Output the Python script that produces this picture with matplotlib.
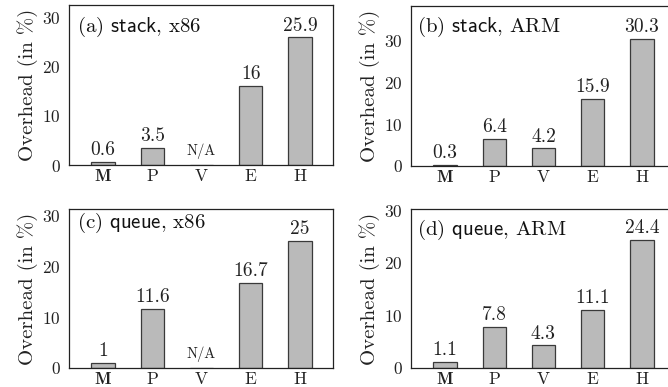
import matplotlib
matplotlib.use("Agg")
import matplotlib.pyplot as plt

plt.rcParams['font.family'] = ['cmr10', 'DejaVu Serif']
plt.rcParams['mathtext.fontset'] = 'cm'
plt.rcParams['axes.formatter.use_mathtext'] = True

categories = ["M", "P", "V", "E", "H"]
panel_titles = [r"(a) $\mathsf{stack}$, x86", r"(b) $\mathsf{stack}$, ARM",
                r"(c) $\mathsf{queue}$, x86", r"(d) $\mathsf{queue}$, ARM"]
stack_x86 = [0.6, 3.5, None, 16, 25.9]
stack_arm = [0.3, 6.4, 4.2, 15.9, 30.3]
queue_x86 = [1, 11.6, None, 16.7, 25]
queue_arm = [1.1, 7.8, 4.3, 11.1, 24.4]
series = [stack_x86, stack_arm, queue_x86, queue_arm]
value_labels = [["0.6", "3.5", "N/A", "16", "25.9"],
                ["0.3", "6.4", "4.2", "15.9", "30.3"],
                ["1", "11.6", "N/A", "16.7", "25"],
                ["1.1", "7.8", "4.3", "11.1", "24.4"]]
yticks = [0, 10, 20, 30]

fig = plt.figure(figsize=(6.68, 3.87), dpi=100)
W, H = 668, 387
# (left, top, right, bottom) in pixels
boxes = [(69, 5, 333, 165), (411, 6, 675, 166), (69, 209, 333, 368), (411, 209, 675, 368)]
ylims = [32.5, 38.1, 31.2, 30.2]
title_pos = [(0.03, 0.8625), (0.023, 0.87), (0.03, 0.912), (0.023, 0.868)]

for i, (l, t, r, b) in enumerate(boxes):
    ax = fig.add_axes([l / W, 1 - b / H, (r - l) / W, (b - t) / H])
    vals = series[i]
    x = list(range(len(categories)))
    heights = [v if v is not None else 0 for v in vals]
    ax.bar(x, heights, width=0.47, color="#bababa", edgecolor="#3a3a3a", linewidth=0.9)
    for xi, v, lab in zip(x, vals, value_labels[i]):
        if v is None:
            ax.annotate(lab, (xi, 0), xytext=(0, 4), textcoords="offset points",
                        ha="center", va="bottom", fontsize=10.5, color="#222222")
        else:
            ax.annotate(lab, (xi, v), xytext=(0, 2), textcoords="offset points",
                        ha="center", va="bottom", fontsize=14, color="#222222")
    ax.set_xlim(-0.69, 4.67)
    ax.set_ylim(0, ylims[i])
    ax.set_yticks(yticks)
    ax.set_xticks(x)
    ax.set_xticklabels(categories)
    ax.get_xticklabels()[0].set_family('cmb10')
    ax.tick_params(axis='both', length=0, labelsize=12.5, colors="#222222")
    ax.tick_params(axis='y', pad=6)
    ax.tick_params(axis='x', pad=3)
    ax.set_ylabel("Overhead (in %)", fontsize=15, color="#222222", labelpad=3)
    for s in ax.spines.values():
        s.set_color("#222222")
        s.set_linewidth(0.9)
    ax.text(title_pos[i][0], title_pos[i][1], panel_titles[i], transform=ax.transAxes,
            ha="left", va="center", fontsize=15, color="#111111")

fig.savefig("out.png", dpi=100)
